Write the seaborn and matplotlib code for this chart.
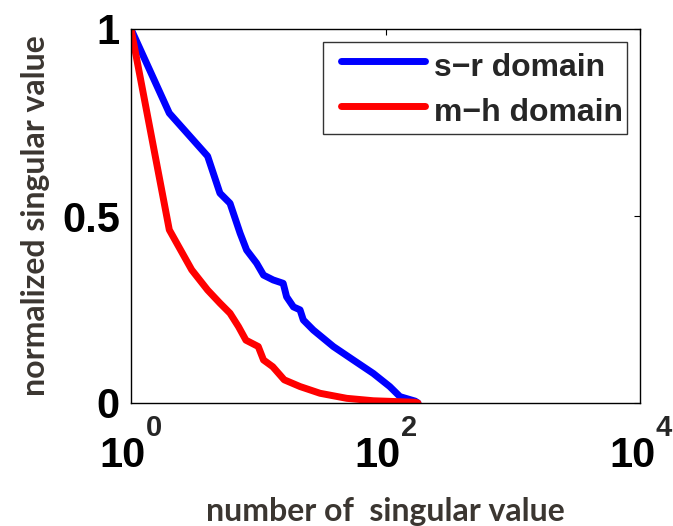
import matplotlib
matplotlib.use("Agg")
import matplotlib.pyplot as plt
import seaborn as sns
import pandas as pd
from matplotlib.ticker import FixedLocator, FixedFormatter, NullLocator
from matplotlib.transforms import ScaledTranslation
from matplotlib.lines import Line2D
from matplotlib.legend_handler import HandlerLine2D

# singular value index and normalized magnitude, per domain
sr_n = [1, 2, 4, 5, 6, 7.2, 8.1, 9.7, 11, 13.1, 15.7, 16.7, 18.9, 21.3, 22.6, 27.1,
        38.9, 55.8, 80.2, 108, 130, 171, 180]
sr_val = [1.0, 0.775, 0.66, 0.561, 0.534, 0.454, 0.409, 0.374, 0.342, 0.329, 0.320,
          0.284, 0.257, 0.249, 0.222, 0.195, 0.151, 0.115, 0.079, 0.044, 0.017, 0.005, 0.0]

mh_n = [1, 2, 3, 4, 5, 6, 7, 8, 10, 11, 13, 16, 21.3, 30.6, 49.6, 80.2, 171, 180]
mh_val = [1.0, 0.463, 0.356, 0.302, 0.267, 0.240, 0.204, 0.168, 0.151, 0.115, 0.097,
          0.062, 0.044, 0.026, 0.0125, 0.006, 0.002, 0.0]

labels = ["s\u2212r domain", "m\u2212h domain"]
colors = ["#0000ff", "#ff0000"]

x_ticks = [1, 100, 10000]
x_tick_base = ["10", "10", "10"]
x_tick_exp = ["0", "2", "4"]
y_ticks = [0, 0.5, 1]
y_tick_labels = ["0", "0.5", "1"]

df = pd.concat([
    pd.DataFrame({"n": sr_n, "value": sr_val, "domain": labels[0]}),
    pd.DataFrame({"n": mh_n, "value": mh_val, "domain": labels[1]}),
], ignore_index=True)

sns.set_style("white")
plt.rcParams["font.family"] = ["Liberation Sans", "DejaVu Sans"]
plt.rcParams["font.weight"] = "bold"

fig = plt.figure(figsize=(6.73, 5.26), dpi=100)
ax = fig.add_axes([131 / 673, 1 - 403 / 526, 509 / 673, 374 / 526])

sns.lineplot(data=df, x="n", y="value", hue="domain",
             palette=dict(zip(labels, colors)), linewidth=5,
             estimator=None, sort=False, ax=ax)

ax.set_xscale("log")
ax.set_xlim(1, 1e4)
ax.set_ylim(0, 1)
ax.xaxis.set_major_locator(FixedLocator(x_ticks))
ax.xaxis.set_major_formatter(FixedFormatter(x_tick_base))
ax.xaxis.set_minor_locator(NullLocator())
ax.yaxis.set_major_locator(FixedLocator(y_ticks))
ax.yaxis.set_major_formatter(FixedFormatter(y_tick_labels))

ax.tick_params(axis="both", which="major", direction="in", length=4, width=0.8,
               top=True, right=True, labelsize=30, colors="black")
ax.tick_params(axis="x", pad=24)
ax.tick_params(axis="y", pad=8)
for lab in ax.get_xticklabels() + ax.get_yticklabels():
    lab.set_fontweight("bold")

# shift the mantissa left so that "10" plus its exponent is centred on the tick
shift = ScaledTranslation(-8 / 100, 0, fig.dpi_scale_trans)
for lab in ax.get_xticklabels():
    lab.set_transform(lab.get_transform() + shift)
for t, e in zip(x_ticks, x_tick_exp):
    ax.annotate(e, xy=(t, 0), xycoords=ax.get_xaxis_transform(),
                xytext=(15, -11), textcoords="offset pixels",
                ha="left", va="top", fontsize=21, fontweight="bold",
                annotation_clip=False)

for sp in ax.spines.values():
    sp.set_linewidth(1.0)
    sp.set_color("black")

label_color = "#3b3631"
ax.set_xlabel("number of  singular value", fontsize=23, fontweight="bold",
              family=["Lato", "DejaVu Sans"], color=label_color)
ax.set_ylabel("normalized singular value", fontsize=23, fontweight="bold",
              family=["Lato", "DejaVu Sans"], color=label_color)
ax.xaxis.set_label_coords(0.5, -0.25)
ax.yaxis.set_label_coords(-0.159, 0.5)

leg = ax.legend(loc="upper right", bbox_to_anchor=(627 / 673, 1 - 42 / 526),
                bbox_transform=fig.transFigure, frameon=True, fancybox=False,
                prop={"size": 23, "weight": "bold"}, handlelength=3.09,
                handleheight=1.5, handletextpad=0.28, borderpad=0.12,
                labelspacing=0.2, borderaxespad=0,
                handler_map={Line2D: HandlerLine2D(xpad=0.46)})
leg.get_frame().set_edgecolor("black")
leg.get_frame().set_linewidth(1.0)
for h in leg.get_lines():
    h.set_linewidth(5)

fig.savefig("out.png", dpi=100)
